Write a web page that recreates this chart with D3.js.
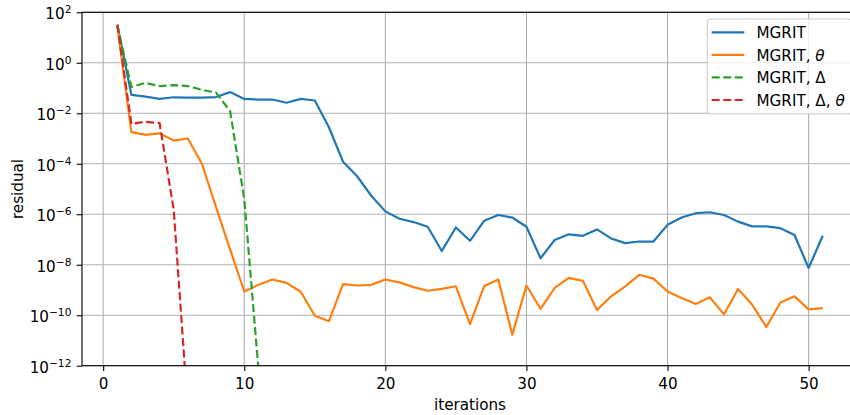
<!DOCTYPE html>
<html>
<head>
<meta charset="utf-8">
<script src="https://cdn.jsdelivr.net/npm/d3@7"></script>
<style>
  body { margin: 0; background: #fff; }
  svg { display: block; font-family: "DejaVu Sans", sans-serif; }
</style>
</head>
<body>
<svg id="chart" width="850" height="415"></svg>
<script>
// residual per iteration
const iterMgrit = d3.range(1, 52);
const resMgrit = [
  3.2e1, 5.4e-2, 4.6e-2, 3.7e-2, 4.3e-2, 4.2e-2, 4.2e-2, 4.4e-2, 6.9e-2, 3.7e-2,
  3.5e-2, 3.5e-2, 2.6e-2, 3.7e-2, 3.2e-2, 2.8e-3, 1.2e-4, 3.2e-5, 5.4e-6, 1.3e-6,
  6.6e-7, 4.9e-7, 3.2e-7, 3.5e-8, 3.0e-7, 8.9e-8, 5.5e-7, 9.3e-7, 7.4e-7, 3.2e-7,
  1.8e-8, 9.5e-8, 1.6e-7, 1.4e-7, 2.5e-7, 1.1e-7, 7.2e-8, 8.3e-8, 8.3e-8, 3.8e-7,
  7.4e-7, 1.1e-6, 1.2e-6, 9.3e-7, 5.1e-7, 3.3e-7, 3.3e-7, 2.8e-7, 1.5e-7, 7.4e-9,
  1.4e-7
];

const iterTheta = d3.range(1, 52);
const resTheta = [
  3.2e1, 1.8e-3, 1.4e-3, 1.6e-3, 8.3e-4, 1.0e-3, 1.0e-4, 1.9e-6, 4.0e-8, 8.7e-10,
  1.6e-9, 2.6e-9, 1.9e-9, 8.5e-10, 9.5e-11, 5.8e-11, 1.7e-9, 1.5e-9, 1.6e-9, 2.6e-9,
  2.0e-9, 1.3e-9, 9.3e-10, 1.1e-9, 1.4e-9, 4.4e-11, 1.4e-9, 2.6e-9, 1.7e-11, 1.5e-9,
  1.8e-10, 1.2e-9, 3.0e-9, 2.3e-9, 1.6e-10, 5.6e-10, 1.4e-9, 4.0e-9, 2.8e-9, 8.7e-10,
  4.8e-10, 2.8e-10, 5.1e-10, 1.1e-10, 1.1e-9, 2.6e-10, 3.4e-11, 3.2e-10, 5.6e-10, 1.7e-10,
  1.9e-10
];

const iterDelta = d3.range(1, 12);
const resDelta = [3.2e1, 1.1e-1, 1.6e-1, 1.2e-1, 1.3e-1, 1.2e-1, 8.5e-2, 6.6e-2, 1.2e-2, 4.0e-6, 8e-13];

const iterDeltaTheta = d3.range(1, 7);
const resDeltaTheta = [3.2e1, 3.8e-3, 4.6e-3, 4.1e-3, 1.5e-6, 1.8e-14];

const xTicks = [0, 10, 20, 30, 40, 50];
const yTickExps = [2, 0, -2, -4, -6, -8, -10, -12];

const series = [
  { name: "MGRIT", sub: [], x: iterMgrit, y: resMgrit, color: "#1f77b4", dash: null },
  { name: "MGRIT", sub: [["θ", true]], x: iterTheta, y: resTheta, color: "#ff7f0e", dash: null },
  { name: "MGRIT", sub: [["Δ", false]], x: iterDelta, y: resDelta, color: "#2ca02c", dash: "8,3.5" },
  { name: "MGRIT", sub: [["Δ", false], ["θ", true]], x: iterDeltaTheta, y: resDeltaTheta, color: "#d62728", dash: "8,3.5" }
];

const fs = 15.2;
const plotL = 82, plotR = 858, plotT = 12.3, plotB = 365.7;

const svg = d3.select("#chart");

const x = d3.scaleLinear().domain([-1.5, 53.5]).range([plotL, plotR]);
const y = d3.scaleLog().domain([1e-12, 1e2]).range([plotB, plotT]);

svg.append("defs").append("clipPath").attr("id", "plot-clip")
  .append("rect")
  .attr("x", plotL).attr("y", plotT)
  .attr("width", plotR - plotL).attr("height", plotB - plotT);

// rejilla
const grid = svg.append("g").attr("stroke", "#b0b0b0").attr("stroke-width", 1.1);
grid.selectAll(".gx").data(xTicks).enter().append("line")
  .attr("x1", d => x(d)).attr("x2", d => x(d))
  .attr("y1", plotT).attr("y2", plotB);
grid.selectAll(".gy").data(yTickExps).enter().append("line")
  .attr("x1", plotL).attr("x2", plotR)
  .attr("y1", d => y(Math.pow(10, d))).attr("y2", d => y(Math.pow(10, d)));

// curvas
const line = d3.line()
  .x(d => x(d[0]))
  .y(d => y(d[1]));

const plot = svg.append("g").attr("clip-path", "url(#plot-clip)");
series.forEach(s => {
  plot.append("path")
    .datum(s.x.map((v, i) => [v, s.y[i]]))
    .attr("d", line)
    .attr("fill", "none")
    .attr("stroke", s.color)
    .attr("stroke-width", 2.2)
    .attr("stroke-linejoin", "round")
    .attr("stroke-dasharray", s.dash);
});

// ejes
const xAxis = svg.append("g")
  .attr("transform", `translate(0,${plotB})`)
  .call(d3.axisBottom(x).tickValues(xTicks).tickSize(5.3).tickSizeOuter(0).tickPadding(5.3));
xAxis.select(".domain").remove();
xAxis.selectAll("line").attr("stroke", "#000").attr("stroke-width", 1.1);
xAxis.selectAll("text")
  .attr("font-size", fs).attr("font-family", "DejaVu Sans").attr("fill", "#000")
  .attr("dy", "0.84em");

const yAxis = svg.append("g")
  .attr("transform", `translate(${plotL},0)`)
  .call(d3.axisLeft(y).tickValues(yTickExps.map(e => Math.pow(10, e))).tickSize(5.3).tickSizeOuter(0).tickPadding(5.3));
yAxis.select(".domain").remove();
yAxis.selectAll("line").attr("stroke", "#000").attr("stroke-width", 1.1);
yAxis.selectAll("text")
  .attr("font-size", fs).attr("font-family", "DejaVu Sans").attr("fill", "#000")
  .attr("dy", "0.43em")
  .each(function(d) {
    const t = d3.select(this);
    const e = Math.round(Math.log10(d));
    t.text("");
    t.append("tspan").text("10");
    t.append("tspan")
      .attr("dy", -5.9)
      .attr("font-size", fs * 0.7)
      .text(e < 0 ? "−" + (-e) : String(e));
  });

// marco
svg.append("rect")
  .attr("x", plotL).attr("y", plotT)
  .attr("width", plotR - plotL).attr("height", plotB - plotT)
  .attr("fill", "none").attr("stroke", "#000").attr("stroke-width", 1.1);

svg.append("text")
  .attr("x", (plotL + plotR) / 2).attr("y", 410)
  .attr("text-anchor", "middle").attr("font-size", fs)
  .text("iterations");

svg.append("text")
  .attr("transform", `translate(22.5,${(plotT + plotB) / 2}) rotate(-90)`)
  .attr("text-anchor", "middle").attr("font-size", fs)
  .text("residual");

// leyenda
const legend = svg.append("g");
legend.append("rect")
  .attr("x", 707.3).attr("y", 19)
  .attr("width", 144).attr("height", 95)
  .attr("rx", 3).attr("ry", 3)
  .attr("fill", "#fff").attr("fill-opacity", 0.8)
  .attr("stroke", "#cccccc").attr("stroke-width", 1.1);

const rowY = d3.scalePoint().domain(d3.range(series.length)).range([32.4, 100]);

const items = legend.selectAll(".legend-item")
  .data(series)
  .enter()
  .append("g")
  .attr("class", "legend-item");

items.append("line")
  .attr("x1", 711.7).attr("x2", 744.3)
  .attr("y1", (d, i) => rowY(i)).attr("y2", (d, i) => rowY(i))
  .attr("stroke", d => d.color)
  .attr("stroke-width", 2.2)
  .attr("stroke-dasharray", d => d.dash);

items.append("text")
  .attr("x", 756.5)
  .attr("y", (d, i) => rowY(i) + 5.6)
  .attr("font-size", fs)
  .each(function(d) {
    const t = d3.select(this);
    t.append("tspan").text(d.name);
    d.sub.forEach(([sym, it]) => {
      t.append("tspan").text(", ");
      t.append("tspan").attr("font-style", it ? "italic" : null).text(sym);
    });
  });
</script>
</body>
</html>
